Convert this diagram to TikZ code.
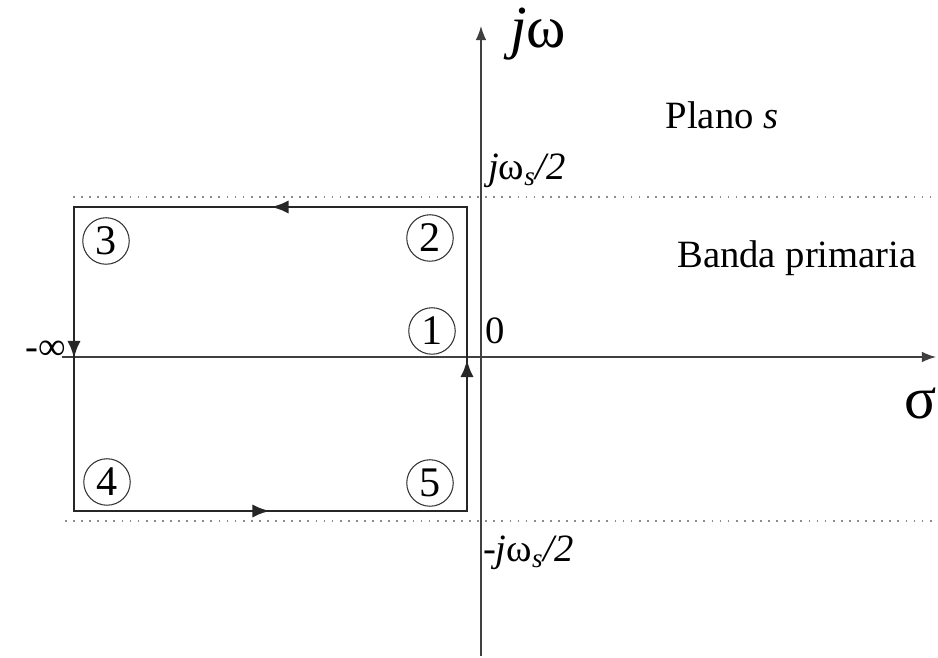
\documentclass[tikz,border=0pt]{standalone}
\usepackage{fontspec}
\setmainfont{Liberation Serif}
\usetikzlibrary{arrows.meta,decorations.markings}

\begin{document}
\begin{tikzpicture}[x=0.02cm, y=-0.02cm,
    axis/.style={line width=0.7pt, draw=black!75, -{Latex[length=8pt,width=6pt]}},
    band/.style={draw=black!45, line width=1pt, dash pattern=on 1pt off 3.6pt},
    contour/.style={line width=1.7pt, draw=black!85, line join=miter, postaction={decorate},
        decoration={markings, mark=between positions 0.1087 and 1 step 0.25 with {\arrow{Latex[length=10pt,width=7.5pt]}}}},
    num/.style={circle, draw=black!80, line width=0.6pt, minimum size=0.93cm, inner sep=0pt, font=\fontsize{24}{24}\selectfont},
    lbl/.style={font=\fontsize{22}{26}\selectfont, inner sep=1pt},
    big/.style={font=\fontsize{34}{38}\selectfont, inner sep=1pt}
]
\useasboundingbox (0,0) rectangle (938,658);

% ejes
\coordinate (xs) at (62,357);
\coordinate (xe) at (936,357);
\coordinate (ys) at (481,656);
\coordinate (ye) at (481,26);
\draw[axis] (xs) -- (xe);
\draw[axis] (ys) -- (ye);

% banda primaria
\coordinate (bt1) at (73,197);
\coordinate (bt2) at (936,197);
\coordinate (bb1) at (65,521);
\coordinate (bb2) at (936,521);
\draw[band] (bt1) -- (bt2);
\draw[band] (bb1) -- (bb2);

% contorno
\coordinate (br) at (467,511);
\coordinate (tr) at (467,207);
\coordinate (tl) at (74,207);
\coordinate (bl) at (74,511);
\draw[contour] (br) -- (tr) -- (tl) -- (bl) -- cycle;

% puntos
\node[num] (n1) at (432,331) {1};
\node[num] (n2) at (430,238) {2};
\node[num] (n3) at (106,241) {3};
\node[num] (n4) at (107,482) {4};
\node[num] (n5) at (430,483) {5};

% textos
\node[big] (jw) at (538,34) {\textit{j}ω};
\node[big] (sig) at (921,404) {σ};
\node[lbl] (plano) at (722,115) {Plano \textit{s}};
\node[lbl] (banda) at (797,258) {Banda primaria};
\node[lbl, anchor=west] (ws) at (486,171) {\textit{j}ω\textsubscript{\textit{s}}\textit{/2}};
\node[lbl, anchor=west] (mws) at (481,553) {-\textit{j}ω\textsubscript{\textit{s}}\textit{/2}};
\node[lbl] (cero) at (495,331) {0};
\node[lbl] (minf) at (46,350) {-∞};
\end{tikzpicture}
\end{document}
